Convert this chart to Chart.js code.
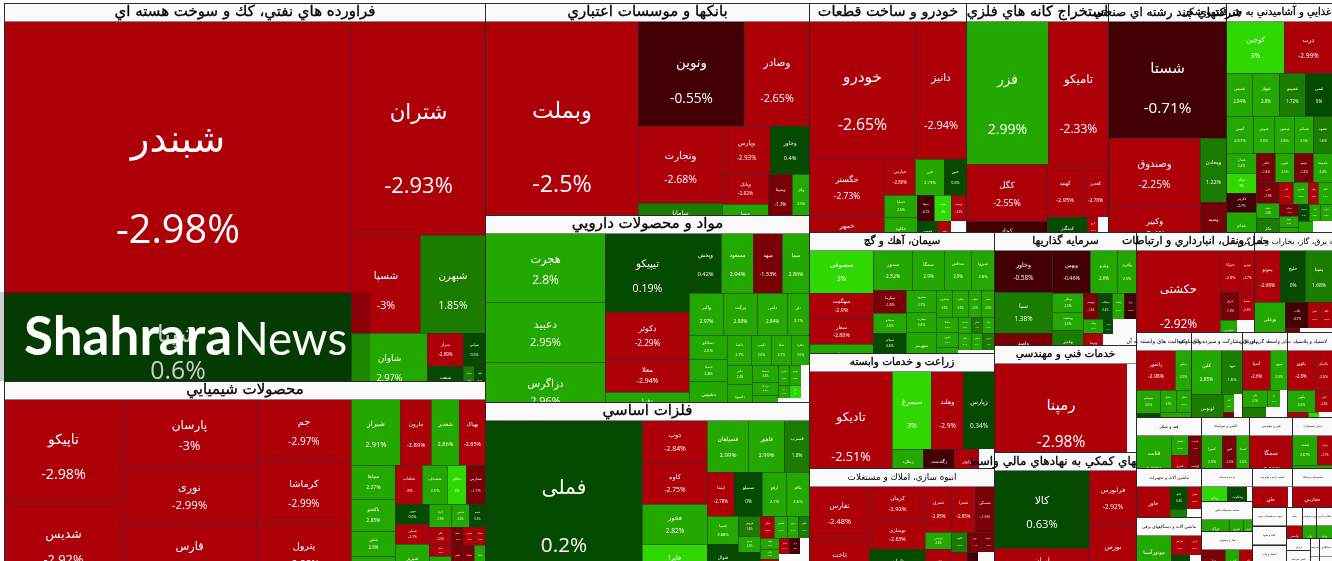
<!DOCTYPE html>
<html>
<head>
<meta charset="utf-8">
<title>نقشه بازار</title>
<script src="https://cdn.jsdelivr.net/npm/chart.js@4"></script>
<style>
html, body { margin: 0; padding: 0; background: #fff; overflow: hidden; }
canvas { display: block; }
</style>
</head>
<body>
<canvas id="map" width="1332" height="561"></canvas>
<script>
// sector titles and sizes
const sectorNames = [
  'فراورده هاي نفتي، كك و سوخت هسته اي', 'محصولات شيميايي',
  'بانكها و موسسات اعتباري', 'مواد و محصولات دارويي', 'فلزات اساسي',
  'خودرو و ساخت قطعات', 'استخراج كانه هاي فلزي', 'شركتهاي چند رشته اي صنعتي', 'محصولات غذايي و آشاميدني به جز قند و شكر',
  'سيمان، آهك و گچ', 'زراعت و خدمات وابسته', 'انبوه سازي، املاك و مستغلات',
  'سرمايه گذاريها', 'خدمات فني و مهندسي', 'فعاليتهاي كمكي به نهادهاي مالي واسط',
  'حمل ونقل، انبارداري و ارتباطات', 'عرضه برق، گاز، بخاراب و آب گرم',
  'رايانه و فعاليت هاي وابسته به آن', 'اوراق مشاركت و سپرده هاي بانكي', 'ساير واسطه گريهاي مالي', 'لاستيك و پلاستيك',
  'قند و شكر', 'ماشين آلات و تجهيزات', 'ماشين آلات و دستگاههاي برقي',
  'كاشي و سراميك', 'فني و مهندسي', 'ساير محصولات',
  'عرضه و خدمات', 'ساخت محصولات فلزي', 'هتل و رستوران',
  'ساخت راديو و تلويزيون', 'منسوجات و پوشاك',
  'چوب و محصولات چوبي', 'كاغذ و مقوا', 'انتشار و چاپ',
  'بيمه', 'خرده فروشي', 'ماشين اداري',
  'اوراق', 'تامين سرمايه', 'سرمايه', 'پيمانكاري'
];
const sectorValues = [
  181818, 88985,
  68688, 60588, 53136,
  35953, 32518, 27022, 24274,
  22385, 21275, 18130,
  16046, 15194, 16188,
  11800, 7800,
  4675, 4335, 3825, 3825,
  3315, 3185, 3185,
  2448, 2193, 2040,
  1683, 1530, 1785,
  1560, 1560,
  646, 646, 714,
  496, 434, 496,
  288, 384, 252, 364
];
const sectorStrips = [2, 3, 4, 3, 3, 2, 4, 3, 3, 3, 2, 3, 3, 2, 2];

// one inner list per sector
const symbols = [
  ['شبندر', 'شپنا', 'شتران', 'شسپا', 'شبهرن', 'شاوان', 'سراز', 'شپاس', 'شنفت', 'شرانل', 'شکلر', 'شگل'],
  ['تاپیکو', 'شدیس', 'پارسان', 'نوری', 'فارس', 'جم', 'کرماشا', 'پترول', 'شیراز', 'مارون', 'شغدیر', 'بهپاک', 'سپاها', 'پاکشو', 'شفن', 'شکربن', 'شلعاب', 'شصدف', 'شکام', 'شفارس', 'نوین', 'شملی', 'شبریز', 'کرتا', 'شیمی', 'شجم', 'کلر', 'شاملا', 'شپدیس', 'شاراک', 'شفا', 'شرنگی', 'پلیمر', 'شکف', 'پاسا', 'پکرمان', 'دوده', 'شبصیر'],
  ['وبملت', 'ونوین', 'وصادر', 'وتجارت', 'سامانا', 'وپارس', 'وخاور', 'وبانک', 'وپسا', 'وسینا', 'وکار', ''],
  ['هجرت', 'دعبید', 'دزاگرس', 'تیپیکو', 'دکوثر', 'معلا', 'دفرا', 'وپخش', 'مسعود', 'میهد', 'سما', 'والبر', 'برکت', 'دامی', 'دلر', 'دسانکو', 'دتماد', 'دشیمی', 'دلقما', 'دکیمی', 'شفا', 'دفارا', 'دالبر', 'داسوه', 'دسبحا', 'درازک', 'تولید', 'دپارس', 'دتوزیع', 'داوه', 'درو', 'دارو', '', 'دیران', 'دتهران', '', ''],
  ['فملی', 'ذوب', 'کاوه', 'فخوز', 'فایرا', 'فسپاهان', 'فاهور', 'فسرب', 'ایمنا', 'سمیلو', 'ارفع', 'بکام', 'فسپا', 'فنوال', 'فروس', 'هرمز', 'فجام', 'فولاژ', 'فگستر', 'فروی', 'فالوم', 'فلوله', 'زنگان', 'فمراد', 'فباهنر', 'فرآور', 'مس', 'فجر', '', ''],
  ['خودرو', 'دانیز', 'خگستر', 'خمهر', 'خپارس', 'خزر', 'ختور', 'خساپا', 'خکاوه', 'ختوقا', 'خلنت', 'خریخت', 'خموتور', 'خاور', 'خشرق', ''],
  ['فزر', 'تامیکو', 'کگل', 'کچاد', 'کهمد', 'کغدیر', 'کمنگنز', 'کروی', '', ''],
  ['شستا', 'وصندوق', 'وکبیر', 'ومعادن', 'وسپه'],
  ['کوچین', 'درب', 'غدیس', 'غبهار', 'غصینو', 'غمی', 'آبیس', 'غنوش', 'غبشهر', 'غسالم', 'غشهد', 'غشان', 'غپاک', 'غگرجی', 'غدام', 'غالبر', 'غچین', 'غپینو', 'غشصفا', 'غزر', 'غنیلو', 'غگل', 'غاذر', 'غفارس', 'غکور', 'غفام', 'غبرکت', 'غویتا', 'غمینو', 'غدشت', 'غلام', 'غمهرا', ''],
  ['سصوفی', 'سهگمت', 'سفار', 'سخزر', 'سدور', 'سمگا', 'سخاش', 'سبزوا', 'سکرما', 'سبجنو', 'سیلام', 'سیدکو', 'سارود', 'سغرب', 'سهرمز', 'سفارس', 'سکرد', 'ساوه', 'سنیر', 'سپاها', 'ساروم', 'سشرق', 'سدشت', 'سقاین', 'سهگل', 'سکار', 'سمازن', 'سرود', 'سدبیر', 'سبهان', 'سنوین', ''],
  ['تادیکو', 'سیمرغ', 'وهلند', 'زپارس', 'زملارد', 'زگلدشت', 'زکوثر', ''],
  ['تفارس', 'ثاخت', 'کرمان', 'نوسازی', 'ثامان', 'ثشرق', 'ثعمرا', 'ثمسکن', 'ثپردیس', 'ثنور', 'ثالوند', 'ثرود', 'ثتوسا', 'ثغرب', 'ثاباد', ''],
  ['وخاور', 'سبا', 'وامید', 'وبهمن', 'وپترو', 'وآفری', 'ونیکی', 'وصنعت', 'وغدیر', 'وتوسم', 'وسکاب', 'ونفت', 'ورنا', 'وملت', 'وتوصا', 'ومدیر', 'وپویا', '', ''],
  ['رمپنا', ''],
  ['کالا', 'ایران', 'فرابورس', 'بورس'],
  ['حکشتی', 'حتوکا', 'حپترو', 'حریل', 'حسینا', 'حفارس', ''],
  ['بموتو', 'خلیج', 'بمپنا', 'بوعلی', 'بکاب', 'بپاس', 'بگیلا', 'بزاگرس', 'بالاس', ''],
  ['رانفور', 'رتکو', 'سیستم', 'مفاخر', 'رکیش', 'ماهان', 'فن'],
  ['کلین', 'مهد', 'لوتوس', 'کیان', '', 'انار', ''],
  ['آسیا', 'میهن', 'ملی', 'دی', '', 'نوین', ''],
  ['بکهور', 'پلاسک', 'پکویر', 'پتایر', 'پدرخش', 'پارس', ''],
  ['قثابت', 'قشکر', 'قلرست', 'قمرو', 'قهکمت'],
  ['خاور', 'تکنو', 'تپمپی', 'تیپ', ''],
  ['موتورآسیا', 'بترانس', 'پارس', 'بشهاب', ''],
  ['کسرا', 'کنور', 'کساپا', 'کساوه'],
  ['سمگا'],
  ['فنفت', 'تبرک', 'قاسم'],
  ['رتاپ', 'وحکمت', ''],
  ['فراک', 'فتوس', 'فجهان'],
  ['هتل', 'گکیش', 'گپارس'],
  ['حاور', ''],
  ['حفارس'],
  [''], [''], [''],
  ['وگستر'], ['وآذر'], ['ودی'],
  [''], [''], [''], ['']
];
const marketValues = [
  [94384, 36782, 28676, 6760, 6370, 5016, 1188, 726, 1188, 242, 242, 242],
  [11918, 9794, 9112, 7504, 8040, 5890, 5795, 5795, 3234, 2046, 1848, 1716, 1452, 1408, 1100, 1232, 1026, 950, 722, 722, 680, 680, 1360, 506, 414, 368, 396, 216, 198, 198, 242, 616, 360, 330, 330, 306],
  [32436, 11130, 6825, 6468, 2520, 2304, 1872, 1380, 1334, 1080, 765, 574],
  [8280, 7200, 6960, 6636, 3948, 2772, 2352, 1920, 1920, 1740, 1620, 1428, 1428, 1260, 924, 912, 836, 1482, 720, 630, 600, 540, 475, 900, 442, 338, 650, 200, 240, 160, 130, 156, 104, 682],
  [25748, 2795, 2665, 2600, 2600, 2132, 1872, 1300, 1188, 1232, 1056, 1012, 896, 1280, 440, 352, 704, 308, 286, 242, 242, 209, 190, 475, 160, 176, 144, 900],
  [14628, 7038, 4125, 2700, 1116, 1044, 792, 726, 1089, 442, 442, 390, 580, 406, 435],
  [11583, 8580, 4560, 2320, 1855, 1378, 1320, 220, 200, 273],
  [13806, 6188, 4004, 1664, 1248],
  [3016, 2496, 1118, 1161, 1118, 1161, 999, 777, 740, 703, 703, 600, 600, 570, 1140, 551, 551, 551, 551, 483, 345, 736, 308, 330, 220, 308, 228, 209, 437, 187, 187, 204, 435, 551],
  [2728, 1674, 1612, 1750, 1600, 1280, 1080, 920, 759, 660, 660, 594, 660, 630, 1170, 432, 432, 351, 351, 352, 330, 528, 221, 187, 204, 221, 187, 204, 756],
  [9430, 3042, 2496, 2418, 1147, 1147, 888, 555],
  [3180, 2700, 1960, 1568, 1960, 1196, 1104, 874, 442, 910, 320, 280, 260, 512, 352, 512],
  [2436, 2378, 1740, 1672, 1188, 836, 608, 576, 1056, 364, 364, 312, 312, 266, 589, 150, 345, 990],
  [14231, 963],
  [7315, 3420, 2538, 2773],
  [8400, 840, 588, 532, 420, 510, 510],
  [1352, 1300, 1404, 1488, 598, 312, 312, 323, 711],
  [1521, 624, 552, 506, 374, 330, 704],
  [1276, 924, 1312, 198, 144, 253, 184],
  [1080, 680, 408, 221, 119, 672, 588],
  [1080, 720, 594, 374, 483, 253, 299],
  [1785, 340, 260, 527, 403],
  [1666, 391, 322, 442, 364],
  [1715, 320, 280, 551, 319],
  [840, 560, 520, 528],
  [2193],
  [750, 450, 840],
  [891, 660, 165],
  [810, 420, 270],
  [840, 490, 455],
  [1404, 156],
  [1560],
  [646], [646], [714],
  [496], [434], [496],
  [288], [384], [252], [364]
];
const changes = [
  [-2.98, 0.6, -2.93, -3, 1.85, 2.97, -2.89, 0.5, 0.3, 1.2, 0.4, -1.2],
  [-2.98, -2.92, -3, -2.99, -2.9, -2.97, -2.99, -2.88, 2.91, -2.89, 2.86, -2.85, 2.27, 2.85, 2.8, 2.6, -3, 2.5, 3, -1.7, 0.6, -2.7, 2.4, 2.6, 2.3, 0.5, -2.6, -1.5, -2.3, -2.4, -2.2, 2.4, -1.4, -1.6, 2.2, 2.1],
  [-2.5, -0.55, -2.65, -2.68, 1.6, -2.93, 0.4, -2.82, 2.4, -1.3, 2.5, null],
  [2.8, 2.95, 2.96, 0.19, -2.29, -2.94, 2.7, 0.42, 2.94, -1.33, 2.86, 2.97, 2.88, 2.84, 2.7, 2.6, 2.8, 2.5, 2.7, 2.6, 2.7, 2.5, 2.4, 2.5, 2.6, 2.5, 2.4, 2.3, 2.6, null, 2.5, 3, null, null],
  [0.2, -2.84, -2.75, 2.82, 3, 2.99, 2.99, 1.8, -2.78, 0, 2.7, 2.6, 2.88, 0.5, 1.6, 2.5, 0.4, -2.5, 2.4, 2.4, 1.5, 2.5, 2.3, -2.2, -2.4, -0.6, null, null],
  [-2.65, -2.94, -2.73, -2.6, -2.86, 2.73, 0.6, 2.6, 2.4, -0.7, 3, -2.5, 0.4, -2.3, null],
  [2.99, -2.33, -2.55, -0.8, -2.95, -2.78, 0.5, -2.4, null, null],
  [-0.71, -2.25, -2.4, 1.22, -1.2],
  [3, -2.99, 2.84, 2.8, 1.72, 0, 2.67, 2.6, 2.6, 2.5, 1.6, 2.4, 3, -0.7, 2.5, -1.4, 2.5, -1.3, 2.4, -1.5, 2.4, 1.5, -2.4, 2.5, -2.3, 2.4, -1.2, 2.2, 2.3, 0.4, 2.3, 2.3, 2.3, null],
  [3, -2.9, -2.88, 2.5, 2.52, 2.9, 2.9, 2.8, -1.8, 2.6, 0.6, 1.6, 2.7, 2.6, 2.5, 2.6, 2.6, 2.5, 2.5, 2.5, 2.5, 2.5, 2.5, 1.5, 2.5, 2.4, 2.4, 1.6, null],
  [-2.51, 3, -2.9, 0.34, 2.6, -0.6, -2.7, null],
  [-2.48, -2.9, -2.92, -2.83, 0.5, -2.85, -2.85, -1.5, 2.6, -2.5, 1.7, -1.4, -1.3, -2.4, -0.7, null],
  [-0.58, 1.38, -1.6, -0.46, 2.6, 2.5, 2.5, 2.5, 1.5, -1.4, 0.4, 2.4, -0.5, 2.4, -2.5, 0.4, null, null],
  [-2.98, null],
  [0.63, -2.7, -2.92, -2.87],
  [-2.92, -2.8, -2.7, -1.3, -2.5, 2.4, null],
  [-2.68, 0, 1.68, 2.55, -0.7, -2.6, -2.6, -1.2, null],
  [-2.98, 2.5, 2.5, 0.4, 2.5, 2.5, 2.4],
  [2.85, 1.6, 1.8, 2.5, null, -1.5, null],
  [-2.6, 2.5, 2.7, 2.4, null, 1.7, null],
  [-2.8, -2.6, 2.5, -2.6, -2.5, 3, null],
  [2.28, 2.5, -1.6, -2.6, -1.5],
  [-2.66, 0.4, -2.7, 1.5, null],
  [2.88, -2.7, -2.7, 0.5, null],
  [2.5, -1.5, 2.6, -0.5],
  [-2.11],
  [2.67, -2.7, 2.4],
  [3, 0.3, null],
  [2.6, 2.5, 2.4],
  [-1.5, 2.5, -2.6],
  [-2.5, null],
  [-2.6],
  [null], [null], [null],
  [-2.7], [2.5], [2.4],
  [null], [null], [null], [null]
];
const strips = [
  [2, 1, 2, 1, 2, 1, 2, 1],
  [2, 3, 3, 4, 4, 4, 3, 3, 4, 2, 3, 1],
  [1, 2, 2, 2, 2, 2, 1],
  [3, 4, 4, 4, 3, 4, 2, 3, 3, 3, 1],
  [1, 4, 3, 4, 2, 3, 4, 3, 3, 1],
  [2, 2, 3, 2, 3, 1, 2],
  [2, 2, 2, 1, 2, 1],
  [1, 2, 1, 1],
  [2, 4, 5, 4, 4, 3, 4, 3, 3, 1, 1],
  [4, 4, 4, 3, 4, 3, 3, 3, 1],
  [1, 3, 1, 1, 1, 1],
  [2, 3, 3, 2, 3, 1, 2],
  [3, 3, 3, 4, 2, 2, 1],
  [1, 1],
  [2, 1, 1],
  [1, 2, 2, 1, 1],
  [3, 1, 3, 1, 1],
  [2, 2, 2, 1],
  [2, 1, 2, 2],
  [2, 3, 1, 1],
  [2, 2, 1, 1, 1],
  [1, 2, 2],
  [1, 2, 1, 1],
  [1, 2, 1, 1],
  [3, 1],
  [1],
  [2, 1],
  [1, 2],
  [1, 2],
  [1, 2],
  [1, 1],
  [1],
  [1], [1], [1],
  [1], [1], [1],
  [1], [1], [1], [1]
];

const HEADER = 18;
const MAP = { x: 4, y: 3, w: 1328, h: 563 };
const NUM_FONT = '"Open Sans", sans-serif';
const FA_FONT = '"DejaVu Sans", sans-serif';
// title font sizes of the bigger sectors, the small ones follow their area
const titleSizes = [15, 15, 15, 15, 15, 14.4, 14.4, 12, 10, 10.5, 10.5, 8.8, 10.8, 10.5, 12, 11];
// this sector's title stops at its own right edge
const CLIPPED_TITLE = 14;

function fillFor(v) {
  if (v === null) return '#fafafa';
  if (v <= -2) return '#ae0008';
  if (v <= -1) return '#7a0008';
  if (v < 0) return '#420004';
  if (v < 1) return '#044a00';
  if (v < 2) return '#1a7d00';
  if (v < 3) return '#23a800';
  return '#2ed800';
}

// darker line colour for a cell
function edgeFor(fill) {
  const n = parseInt(fill.slice(1), 16);
  const mix = c => Math.round(c * 0.4 + 48 * 0.6);
  return `rgb(${mix(n >> 16)},${mix((n >> 8) & 255)},${mix(n & 255)})`;
}

// strips along the short side, each one as thick as its share of the area
function layout(values, counts, rect) {
  const total = values.reduce((a, b) => a + b, 0);
  const k = rect.w * rect.h / total;
  let { x, y, w, h } = rect;
  const out = [];
  let i = 0;
  for (const n of counts) {
    const part = values.slice(i, i + n);
    const sum = part.reduce((a, b) => a + b, 0) * k;
    if (h >= w * 0.99) {
      const t = sum / w;
      let cx = x;
      part.forEach(v => { const cw = v * k / t; out.push({ x: cx, y, w: cw, h: t }); cx += cw; });
      y += t; h -= t;
    } else {
      const t = sum / h;
      let cy = y;
      part.forEach(v => { const ch = v * k / t; out.push({ x, y: cy, w: t, h: ch }); cy += ch; });
      x += t; w -= t;
    }
    i += n;
  }
  return out;
}

function buildCells() {
  const cells = [];
  const sectors = layout(sectorValues, sectorStrips, MAP);
  sectors.forEach((s, si) => {
    const body = { x: s.x, y: s.y + HEADER, w: s.w, h: s.h };
    layout(marketValues[si], strips[si], body).forEach((r, i) => {
      cells.push({ ...r, name: symbols[si][i], change: changes[si][i] });
    });
    cells.push({ x: s.x, y: s.y, w: s.w, h: HEADER, title: sectorNames[si], index: si, sectorW: s.w, sectorH: s.h, change: null });
  });
  return cells;
}

class TreemapController extends Chart.DatasetController {
  update(mode) {
    const meta = this._cachedMeta;
    this.updateElements(meta.data, 0, meta.data.length, mode);
  }
  updateElements(rects, start, count, mode) {
    const meta = this._cachedMeta;
    const data = this.getDataset().data;
    for (let i = start; i < start + count; i++) {
      const c = data[i];
      const left = Math.round(meta.xScale.getPixelForValue(c.x));
      const right = Math.round(meta.xScale.getPixelForValue(c.x + c.w));
      const top = Math.round(meta.yScale.getPixelForValue(c.y));
      const bottom = Math.round(meta.yScale.getPixelForValue(c.y + c.h));
      const fill = fillFor(c.change);
      const edge = c.title ? '#888' : c.change === null ? '#fafafa' : edgeFor(fill);
      Object.assign(rects[i], {
        x: (left + right + 1) / 2,
        y: top,
        base: bottom + 1,
        width: right - left + 1,
        height: bottom + 1 - top,
        horizontal: false,
        borderSkipped: {},
        enableBorderRadius: false,
        inflateAmount: 0,
        options: { backgroundColor: fill, borderColor: edge, borderWidth: 1, borderRadius: 0, inflateAmount: 0 }
      });
    }
  }
  draw() {
    const ctx = this.chart.ctx;
    const data = this.getDataset().data;
    this._cachedMeta.data.forEach((el, i) => {
      el.draw(ctx, this.chart.chartArea);
      const c = data[i];
      if (!c.title && c.change !== null) drawCellText(ctx, el, c);
    });
  }
}
TreemapController.id = 'treemap';
TreemapController.defaults = { dataElementType: 'bar', datasetElementType: false };
TreemapController.overrides = {};
Chart.register(TreemapController);

function drawCellText(ctx, el, c) {
  const size = Math.sqrt(el.width * el.height) * 0.125;
  const h = el.height;
  const nameAt = h >= 100 ? 0.375 + 0.00025 * h : 0.3 + 0.0012 * h;
  const pctAt = h >= 100 ? Math.min(0.77, 0.69 + 0.00045 * h) : 0.61 + 0.0011 * h;
  ctx.save();
  ctx.fillStyle = '#fff';
  ctx.textAlign = 'center';
  ctx.textBaseline = 'middle';
  ctx.direction = 'rtl';
  ctx.font = size + 'px ' + FA_FONT;
  ctx.fillText(c.name, el.x, el.y + h * nameAt);
  ctx.direction = 'ltr';
  ctx.font = size * 1.03 + 'px ' + NUM_FONT;
  ctx.fillText(c.change + '%', el.x, el.y + h * pctAt);
  ctx.restore();
}

// frames and titles go over everything, long titles run into the neighbours
const titlesPlugin = {
  id: 'titles',
  afterDatasetsDraw(chart) {
    const ctx = chart.ctx;
    const data = chart.data.datasets[0].data;
    const xs = chart.scales.x, ys = chart.scales.y;
    ctx.save();
    ctx.strokeStyle = '#2a2a2a';
    ctx.lineWidth = 1;
    data.forEach(c => {
      if (!c.title) return;
      const l = Math.round(xs.getPixelForValue(c.x)) + 0.5;
      const r = Math.round(xs.getPixelForValue(c.x + c.w)) + 0.5;
      const t = Math.round(ys.getPixelForValue(c.y)) + 0.5;
      const b = Math.round(ys.getPixelForValue(c.y + c.sectorH)) + 0.5;
      ctx.strokeRect(l, t, r - l, b - t);
    });
    ctx.fillStyle = '#000';
    ctx.strokeStyle = '#000';
    ctx.lineWidth = 0.3;
    ctx.textAlign = 'center';
    ctx.textBaseline = 'middle';
    ctx.direction = 'rtl';
    data.forEach((c, i) => {
      if (!c.title) return;
      const el = chart.getDatasetMeta(0).data[i];
      const s = Math.sqrt(c.sectorW * c.sectorH);
      const size = titleSizes[c.index] || Math.max(2.5, Math.min(15, 0.115 * s - 2.3));
      ctx.save();
      if (c.index === CLIPPED_TITLE) {
        ctx.beginPath();
        ctx.rect(0, el.y, el.x + el.width / 2, HEADER);
        ctx.clip();
      }
      ctx.font = size + 'px ' + FA_FONT;
      ctx.fillText(c.title, el.x, el.y + HEADER / 2 + 0.5);
      if (size > 9) ctx.strokeText(c.title, el.x, el.y + HEADER / 2 + 0.5);
      ctx.restore();
    });
    ctx.restore();
  }
};

// site watermark, bottom left
const logoPlugin = {
  id: 'logo',
  afterDraw(chart) {
    const ctx = chart.ctx;
    ctx.save();
    ctx.fillStyle = 'rgba(0,0,0,0.2)';
    ctx.fillRect(0, 292, 370, 89);
    ctx.fillStyle = '#fff';
    ctx.textBaseline = 'alphabetic';
    ctx.textAlign = 'left';
    ctx.font = 'bold 53px Lato, sans-serif';
    ctx.fillText('Shahrara', 24, 355);
    const w = ctx.measureText('Shahrara').width;
    ctx.font = '45.5px Lato, sans-serif';
    ctx.fillText('News', 26 + w, 355);
    ctx.restore();
  }
};

new Chart(document.getElementById('map'), {
  type: 'treemap',
  data: { datasets: [{ data: buildCells(), parsing: false, normalized: true }] },
  options: {
    responsive: false,
    animation: false,
    events: [],
    devicePixelRatio: 1,
    layout: { padding: 0 },
    plugins: { legend: { display: false }, tooltip: { enabled: false } },
    scales: {
      x: { type: 'linear', min: 0, max: 1332, display: false },
      y: { type: 'linear', min: 0, max: 561, reverse: true, display: false }
    }
  },
  plugins: [titlesPlugin, logoPlugin]
});
</script>
</body>
</html>
